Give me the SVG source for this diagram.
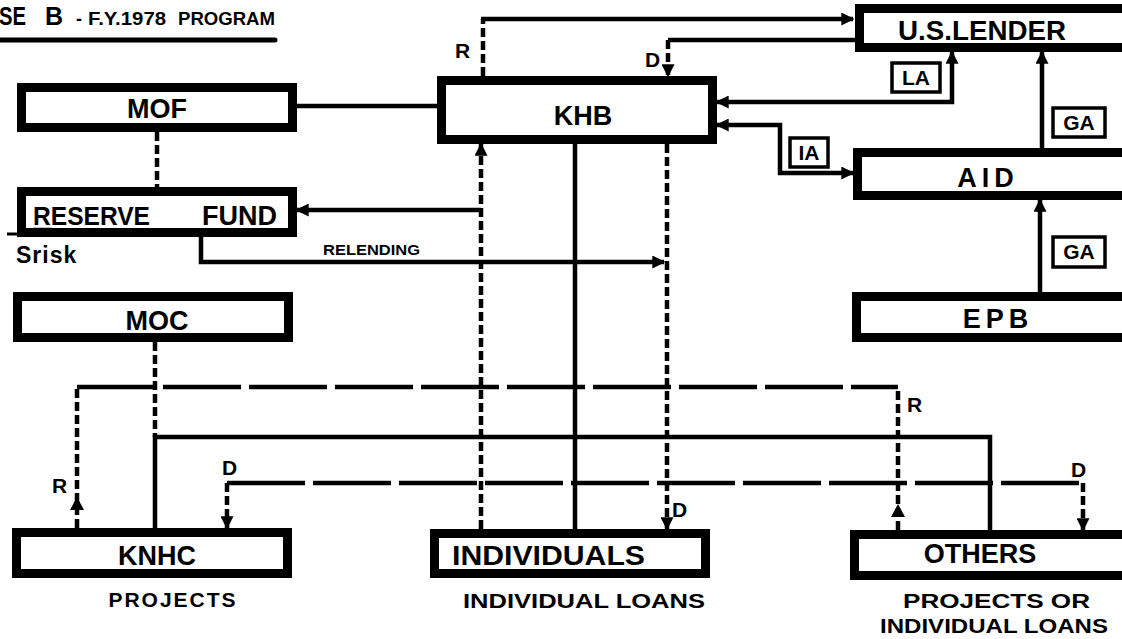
<svg xmlns="http://www.w3.org/2000/svg" width="1122" height="639" viewBox="0 0 1122 639">
<defs>
<style>
.box{fill:#fff;stroke:#000;stroke-width:9}
.t{font-family:"Liberation Sans",Arial,sans-serif;font-weight:bold;fill:#000}
.lbl{font-size:27px;text-anchor:middle}
.sub{font-size:21px}
.tag{fill:#fff;stroke:#000;stroke-width:3.5}
.tagt{font-size:21px;text-anchor:middle}
.s{fill:none;stroke:#000;stroke-width:4.5}
.d{fill:none;stroke:#000;stroke-width:4.5;stroke-dasharray:9 4}
.ld{fill:none;stroke:#000;stroke-width:4.5;stroke-dasharray:78 8}
.ah{fill:#000}
</style>
<marker id="arr" viewBox="0 0 10 10" refX="9" refY="5" markerWidth="13" markerHeight="13" markerUnits="userSpaceOnUse" orient="auto-start-reverse">
<path d="M0,0 L10,5 L0,10 Z" fill="#000"/>
</marker>
</defs>
<rect width="1122" height="639" fill="#fff"/>

<g id="title">
<text class="t" x="-1" y="25" font-size="25" textLength="27" lengthAdjust="spacingAndGlyphs">SE</text>
<text class="t" x="45" y="25" font-size="25">B</text>
<text class="t" x="76" y="25" font-size="18">-</text>
<text class="t" x="88" y="25" font-size="18" textLength="78" lengthAdjust="spacingAndGlyphs">F.Y.1978</text>
<text class="t" x="178" y="25" font-size="18" textLength="97" lengthAdjust="spacingAndGlyphs">PROGRAM</text>
<line x1="0" y1="40" x2="275" y2="40" stroke="#000" stroke-width="5" stroke-linecap="round"/>
</g>

<g id="connectors">
<line class="s" x1="297" y1="106" x2="437" y2="106"/>
<line class="d" x1="157" y1="132" x2="157" y2="187"/>
<line class="d" x1="483" y1="76" x2="483" y2="19"/>
<path class="s" d="M481,19 H853" marker-end="url(#arr)"/>
<path class="s" d="M855,40 H668"/>
<path class="d" d="M668,40 V76" marker-end="url(#arr)"/>
<path class="s" d="M717,102 H952 V52" marker-start="url(#arr)" marker-end="url(#arr)"/>
<path class="s" d="M717,125 H780 V173 H853" marker-start="url(#arr)" marker-end="url(#arr)"/>
<path class="s" d="M1042,148 V52" marker-end="url(#arr)"/>
<path class="s" d="M1040,292 V200" marker-end="url(#arr)"/>
<path class="d" d="M481,529 V144" marker-end="url(#arr)"/>
<path class="s" d="M481,210 H297" marker-end="url(#arr)"/>
<line class="s" x1="575" y1="144" x2="575" y2="529"/>
<path class="d" d="M667,144 V529" marker-end="url(#arr)"/>
<path class="s" d="M201,237 V262 H664" marker-end="url(#arr)"/>
<line class="d" x1="155" y1="342" x2="155" y2="437"/>
<path class="s" d="M155,528 V437 H990 V530"/>
<path class="ld" d="M77,387 H898"/>
<path class="d" d="M77,528 V387"/>
<path class="d" d="M898,530 V387"/>
<polygon class="ah" points="77,497 70,510 84,510"/>
<polygon class="ah" points="898,504 891,517 905,517"/>
<path class="ld" d="M227,483 H1083"/>
<path class="d" d="M227,483 V528" marker-end="url(#arr)"/>
<path class="d" d="M1083,483 V530" marker-end="url(#arr)"/>
</g>

<g id="connector-labels">
<text class="t" x="455" y="58" font-size="21">R</text>
<text class="t" x="645" y="67" font-size="21">D</text>
<rect class="tag" x="892" y="63" width="48" height="29"/>
<text class="t tagt" x="916" y="85">LA</text>
<rect class="tag" x="790" y="138" width="38" height="29"/>
<text class="t tagt" x="809" y="160">IA</text>
<rect class="tag" x="1053" y="108" width="52" height="29"/>
<text class="t tagt" x="1079" y="130">GA</text>
<rect class="tag" x="1053" y="237" width="52" height="30"/>
<text class="t tagt" x="1079" y="259">GA</text>
<text class="t" x="323" y="255" font-size="15" textLength="97" lengthAdjust="spacingAndGlyphs">RELENDING</text>
<text class="t" x="52" y="493" font-size="21">R</text>
<text class="t" x="222" y="475" font-size="21">D</text>
<text class="t" x="672" y="517" font-size="21">D</text>
<text class="t" x="907" y="412" font-size="21">R</text>
<text class="t" x="1071" y="477" font-size="21">D</text>
</g>

<g id="MOF">
<rect class="box" x="21.5" y="87.5" width="271" height="40"/>
<text class="t lbl" x="157" y="118">MOF</text>
</g>

<g id="RESERVE_FUND">
<rect class="box" x="21.5" y="191.5" width="271" height="41"/>
<line x1="7" y1="234" x2="18" y2="234" stroke="#000" stroke-width="3"/>
<text class="t" x="33" y="225" font-size="26" textLength="117" lengthAdjust="spacingAndGlyphs">RESERVE</text>
<line x1="33" y1="229" x2="52" y2="229" stroke="#000" stroke-width="2.5"/>
<text class="t" x="277" y="225" font-size="27" text-anchor="end">FUND</text>
<text class="t" x="16" y="263" font-size="23" letter-spacing="1">Srisk</text>
</g>

<g id="KHB">
<rect class="box" x="441.5" y="80.5" width="271" height="59"/>
<text class="t lbl" x="583" y="125">KHB</text>
</g>

<g id="US_LENDER">
<rect class="box" x="859.5" y="8.5" width="280" height="39"/>
<text class="t lbl" x="982" y="40" font-size="23" textLength="168" lengthAdjust="spacingAndGlyphs">U.S.LENDER</text>
</g>

<g id="AID">
<rect class="box" x="857.5" y="152.5" width="280" height="43"/>
<text class="t lbl" x="988" y="187" letter-spacing="5">AID</text>
</g>

<g id="EPB">
<rect class="box" x="856.5" y="296.5" width="280" height="41"/>
<text class="t lbl" x="998" y="328" font-size="25" letter-spacing="5">EPB</text>
</g>

<g id="MOC">
<rect class="box" x="17.5" y="296.5" width="271" height="41"/>
<text class="t lbl" x="157" y="330">MOC</text>
</g>

<g id="KNHC">
<rect class="box" x="16.5" y="532.5" width="271" height="41"/>
<text class="t lbl" x="157" y="565">KNHC</text>
<text class="t sub" x="173" y="607" text-anchor="middle" letter-spacing="2">PROJECTS</text>
</g>

<g id="INDIVIDUALS">
<rect class="box" x="434.5" y="533.5" width="271" height="40"/>
<text class="t" x="452" y="565" font-size="27" textLength="193" lengthAdjust="spacingAndGlyphs">INDIVIDUALS</text>
<text class="t sub" x="463" y="608" textLength="242" lengthAdjust="spacingAndGlyphs">INDIVIDUAL LOANS</text>
</g>

<g id="OTHERS">
<rect class="box" x="854.5" y="534.5" width="280" height="41"/>
<text class="t lbl" x="980" y="563">OTHERS</text>
<text class="t sub" x="903" y="608" textLength="187" lengthAdjust="spacingAndGlyphs">PROJECTS OR</text>
<text class="t sub" x="880" y="633" textLength="228" lengthAdjust="spacingAndGlyphs">INDIVIDUAL LOANS</text>
</g>
</svg>
